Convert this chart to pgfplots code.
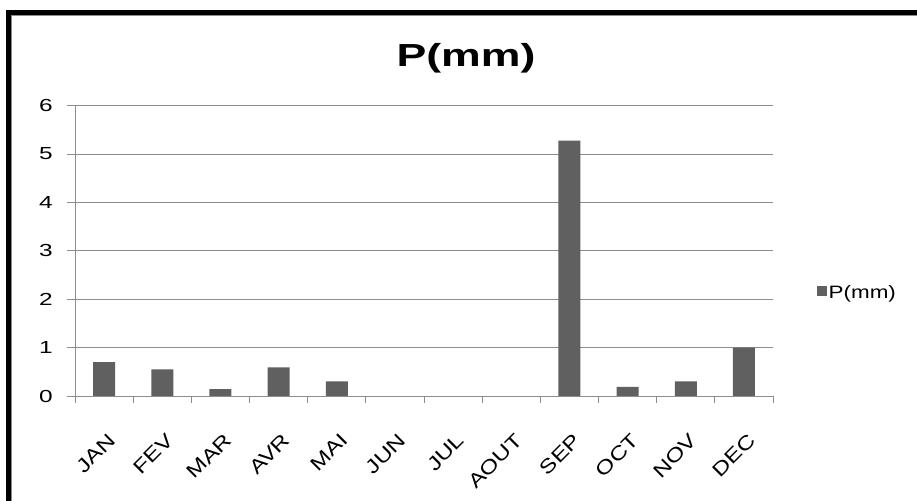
\documentclass[border=0pt]{standalone}
\usepackage{pgfplots}
\pgfplotsset{compat=1.18}
\usepackage{fontspec}
\setmainfont{Liberation Sans}
\newfontfamily\widefont[FakeStretch=1.4]{Liberation Sans}
\newfontfamily\legfont[FakeStretch=1.25]{Liberation Sans}
\newcommand\xlfont{\legfont\fontsize{19.5}{23}\selectfont}
\definecolor{barc}{HTML}{606060}
\definecolor{gridc}{HTML}{8C8C8C}
\begin{document}
\begin{tikzpicture}
\useasboundingbox (0,0) rectangle (917bp,501bp);
\begin{scope}
\clip (0,0) rectangle (917bp,501bp);
\fill[white] (0,0) rectangle (917bp,501bp);
\draw[line width=5bp] (8.5bp,-10bp) -- (8.5bp,488.5bp) -- (930bp,488.5bp);
\draw[black!45, line width=1.3bp] (11.7bp,-10bp) -- (11.7bp,485.3bp) -- (930bp,485.3bp);
\end{scope}
\node[anchor=base, inner sep=0pt, font=\widefont\bfseries\fontsize{32}{36}\selectfont] at (466bp,434.3bp) {P(mm)};
\begin{axis}[
  at={(75bp,105bp)}, anchor=south west,
  scale only axis, width=698bp, height=290.3bp,
  ymin=0, ymax=6, ytick={0,1,...,6},
  xmin=-0.5, xmax=11.5,
  axis x line*=bottom, axis y line*=left,
  axis line style={gridc, line width=0.9bp},
  ymajorgrids, grid style={gridc, line width=0.9bp},
  tick align=outside,
  major tick length=8bp, minor tick length=7bp,
  tick style={gridc, line width=0.9bp},
  xtick={0,...,11},
  xticklabels={JAN,FEV,MAR,AVR,MAI,JUN,JUL,AOUT,SEP,OCT,NOV,DEC},
  major x tick style={draw=none},
  minor xtick={-0.5,0.5,...,11.5},
  /pgf/number format/assume math mode=true,
  yticklabel style={font=\widefont\fontsize{17.5}{20}\selectfont, inner sep=0pt, xshift=-14bp},
  xticklabel style={font=\xlfont, inner sep=0pt, anchor=north east, xshift=3bp, yshift=-28bp, rotate=45},
  legend style={at={(1.058,0.355)}, anchor=west, draw=none, fill=none,
    font=\legfont\fontsize{18}{21}\selectfont},
  legend image code/.code={\fill[barc] (0bp,-3bp) rectangle (10bp,7bp);},
]
\addplot[ybar, bar width=22bp, fill=barc, draw=none,
  unbounded coords=discard, y filter/.expression={y<=0 ? nan : y}]
  coordinates {(0,0.70) (1,0.55) (2,0.14) (3,0.59) (4,0.30) (5,0) (6,0) (7,0) (8,5.28) (9,0.19) (10,0.30) (11,1.0)};
\addlegendentry{P(mm)}
\end{axis}
\end{tikzpicture}
\end{document}
